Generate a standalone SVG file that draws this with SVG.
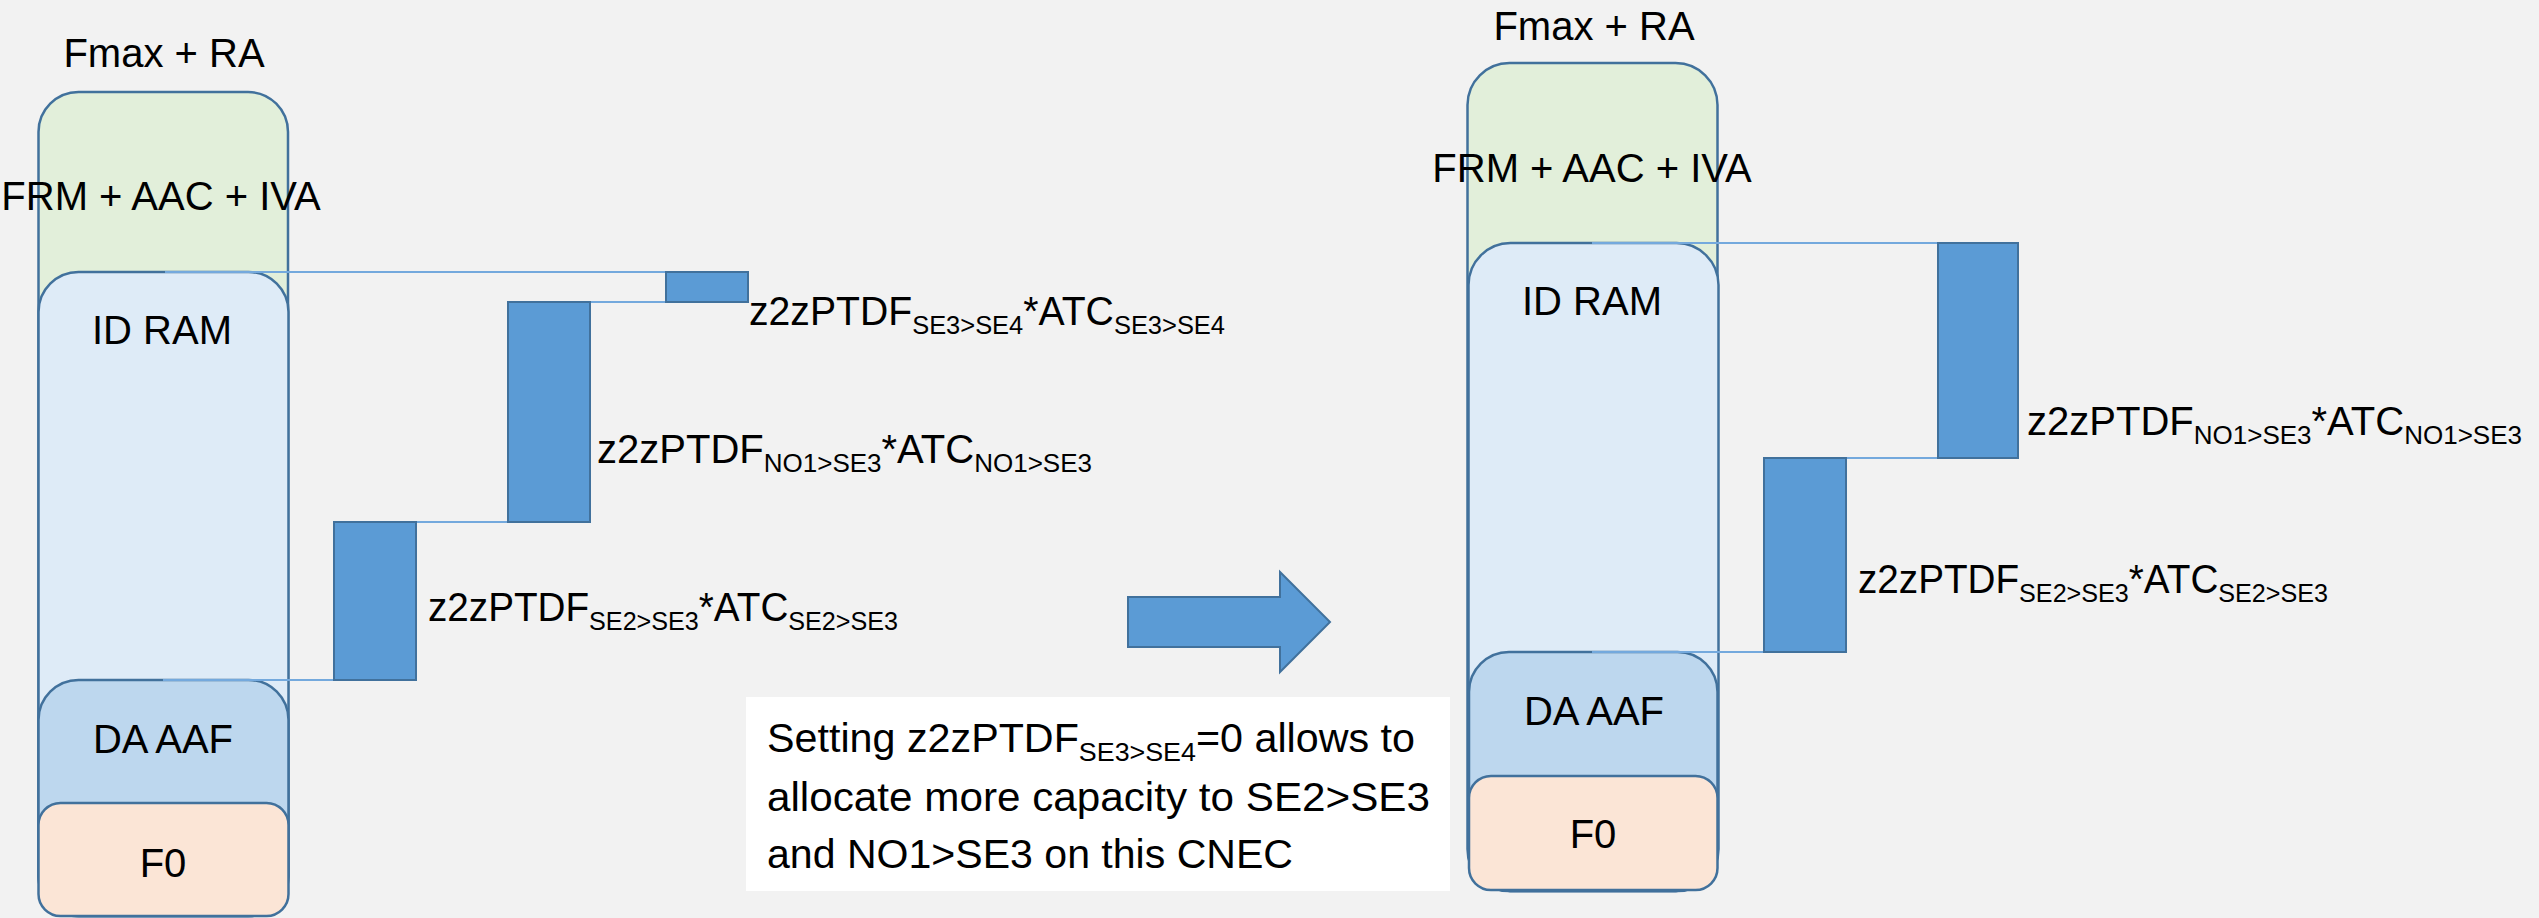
<svg xmlns="http://www.w3.org/2000/svg" width="2539" height="918" viewBox="0 0 2539 918">
<style>
text{font-family:"Liberation Sans",Arial,sans-serif;font-size:40px;fill:#000}
.box{stroke:#41719c;stroke-width:2.5}
.g{fill:#e2efda}.id{fill:#deebf7}.da{fill:#bdd7ee}.f0{fill:#fbe5d6}
.bar{fill:#5b9bd5;stroke:#41719c;stroke-width:2}
.conn{stroke:#74a9dd;stroke-width:2;fill:none}
.sub{font-size:26px}
</style>
<rect x="0" y="0" width="2539" height="918" fill="#f2f2f2"/>

<!-- Left stack -->
<g id="left-fmax"><text x="164" y="67" text-anchor="middle">Fmax + RA</text></g>
<g id="left-frm"><rect class="box g" x="38.5" y="92" width="249.5" height="824" rx="40"/>
<text x="161" y="210" text-anchor="middle">FRM + AAC + IVA</text></g>
<g id="left-idram"><rect class="box id" x="38.5" y="272" width="250" height="644" rx="40"/>
<text x="162" y="344" text-anchor="middle">ID RAM</text></g>
<g id="left-daaaf"><rect class="box da" x="38.5" y="680" width="250" height="236" rx="40"/>
<text x="163" y="753" text-anchor="middle">DA AAF</text></g>
<g id="left-f0"><rect class="box f0" x="38.5" y="803" width="250" height="113" rx="22"/>
<text x="163" y="877" text-anchor="middle">F0</text></g>

<!-- Right stack -->
<g id="right-fmax"><text x="1594" y="40" text-anchor="middle">Fmax + RA</text></g>
<g id="right-frm"><rect class="box g" x="1467.5" y="63" width="250" height="828" rx="42"/>
<text x="1592" y="182" text-anchor="middle">FRM + AAC + IVA</text></g>
<g id="right-idram"><rect class="box id" x="1468.5" y="243" width="250" height="648" rx="42"/>
<text x="1592" y="315" text-anchor="middle">ID RAM</text></g>
<g id="right-daaaf"><rect class="box da" x="1469" y="652" width="248.5" height="239" rx="40"/>
<text x="1594" y="725" text-anchor="middle">DA AAF</text></g>
<g id="right-f0"><rect class="box f0" x="1469" y="776" width="248.5" height="114" rx="22"/>
<text x="1593" y="848" text-anchor="middle">F0</text></g>

<!-- Connectors -->
<g id="connectors">
<line class="conn" x1="165" y1="272" x2="666" y2="272"/>
<line class="conn" x1="590" y1="302" x2="666" y2="302"/>
<line class="conn" x1="416" y1="522" x2="508" y2="522"/>
<line class="conn" x1="163" y1="680" x2="334" y2="680"/>
<line class="conn" x1="1592" y1="243" x2="1938" y2="243"/>
<line class="conn" x1="1846" y1="458" x2="1938" y2="458"/>
<line class="conn" x1="1592" y1="652" x2="1764" y2="652"/>
</g>

<!-- Left bars -->
<g id="left-bar-se3se4"><rect class="bar" x="666" y="272" width="82" height="30"/>
<text x="749" y="325" textLength="476" lengthAdjust="spacingAndGlyphs">z2zPTDF<tspan class="sub" dy="9">SE3&gt;SE4</tspan><tspan dy="-9">*ATC</tspan><tspan class="sub" dy="9">SE3&gt;SE4</tspan></text></g>
<g id="left-bar-no1se3"><rect class="bar" x="508" y="302" width="82" height="220"/>
<text x="597" y="463" textLength="495" lengthAdjust="spacingAndGlyphs">z2zPTDF<tspan class="sub" dy="9">NO1&gt;SE3</tspan><tspan dy="-9">*ATC</tspan><tspan class="sub" dy="9">NO1&gt;SE3</tspan></text></g>
<g id="left-bar-se2se3"><rect class="bar" x="334" y="522" width="82" height="158"/>
<text x="428" y="621" textLength="470" lengthAdjust="spacingAndGlyphs">z2zPTDF<tspan class="sub" dy="9">SE2&gt;SE3</tspan><tspan dy="-9">*ATC</tspan><tspan class="sub" dy="9">SE2&gt;SE3</tspan></text></g>

<!-- Right bars -->
<g id="right-bar-no1se3"><rect class="bar" x="1938" y="243" width="80" height="215"/>
<text x="2027" y="435" textLength="495" lengthAdjust="spacingAndGlyphs">z2zPTDF<tspan class="sub" dy="9">NO1&gt;SE3</tspan><tspan dy="-9">*ATC</tspan><tspan class="sub" dy="9">NO1&gt;SE3</tspan></text></g>
<g id="right-bar-se2se3"><rect class="bar" x="1764" y="458" width="82" height="194"/>
<text x="1858" y="593" textLength="470" lengthAdjust="spacingAndGlyphs">z2zPTDF<tspan class="sub" dy="9">SE2&gt;SE3</tspan><tspan dy="-9">*ATC</tspan><tspan class="sub" dy="9">SE2&gt;SE3</tspan></text></g>

<!-- Arrow -->
<g id="arrow"><polygon points="1128,597 1280,597 1280,572 1330,622 1280,672 1280,647 1128,647" fill="#5b9bd5" stroke="#41719c" stroke-width="2"/></g>

<!-- Note -->
<g id="note"><rect x="746" y="697" width="704" height="194" fill="#ffffff"/>
<text x="767" y="752" textLength="648" lengthAdjust="spacingAndGlyphs">Setting z2zPTDF<tspan class="sub" dy="9">SE3&gt;SE4</tspan><tspan dy="-9">=0 allows to</tspan></text>
<text x="767" y="811" textLength="663" lengthAdjust="spacingAndGlyphs">allocate more capacity to SE2&gt;SE3</text>
<text x="767" y="868" textLength="526" lengthAdjust="spacingAndGlyphs">and NO1&gt;SE3 on this CNEC</text></g>
</svg>
